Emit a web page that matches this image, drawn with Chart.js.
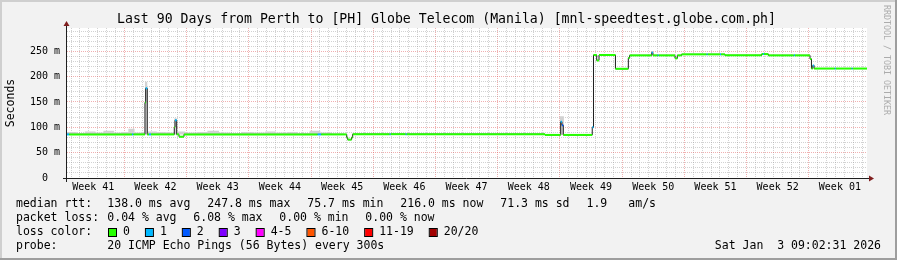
<!DOCTYPE html>
<html>
<head>
<meta charset="utf-8">
<script src="https://cdn.jsdelivr.net/npm/chart.js@4.4.1/dist/chart.umd.min.js"></script>
<style>
  html, body { margin: 0; padding: 0; background: #f2f2f2; }
  canvas { display: block; }
</style>
</head>
<body>
<canvas id="smokeChart" width="897" height="260"></canvas>
<script>
const titleText = 'Last 90 Days from Perth to [PH] Globe Telecom (Manila) [mnl-speedtest.globe.com.ph]';
const weekLabels = ['Week 41', 'Week 42', 'Week 43', 'Week 44', 'Week 45', 'Week 46', 'Week 47',
  'Week 48', 'Week 49', 'Week 50', 'Week 51', 'Week 52', 'Week 01'];
const yTickValues = [0, 50, 100, 150, 200, 250];
const yTickLabels = ['0  ', '50 m', '100 m', '150 m', '200 m', '250 m'];

// median rtt (ms), step values starting at each day offset
const days = [
  0, 0.25, 7.31, 7.48, 8.77, 8.85, 9.03, 9.22, 9.45,
  12.07, 12.15, 12.34, 12.6, 13.16,
  28.2, 28.6, 31.47, 31.58, 32.02, 32.14,
  36.3, 36.42, 38.1, 38.22, 53.77,
  55.54, 55.68, 55.83, 59.09, 59.23, 59.59, 59.85,
  61.7, 63.15, 63.3, 65.78, 65.92, 66.45, 66.57,
  68.4, 68.66, 69.15, 71.96, 72.08, 73.46, 73.58, 74.02,
  78.15, 78.3, 78.42, 78.9, 81.77, 81.89, 83.59, 83.75, 83.9, 84.05,
  86.38, 86.5, 88.27, 88.39
];
const median = [
  86, 86, 86, 86, 149, 177, 86, 86, 86,
  100, 114, 86, 81.5, 86,
  86, 86, 80, 75.7, 80, 86.5,
  86.5, 86.5, 86.5, 86.5, 85,
  111, 104, 85, 100, 242.7, 232, 242.7,
  215.5, 237, 242, 247.8, 242, 242, 242,
  236, 242, 244, 244, 244, 244, 244, 242,
  244.5, 244.5, 244.5, 242, 242, 242, 235, 216, 222, 216,
  216, 216, 216, 216
];
// lost pings (of 20) for each step
const loss = [
  1, 0, 1, 0, 0, 1, 0, 1, 0,
  0, 1, 0, 0, 0,
  1, 0, 0, 0, 0, 0,
  1, 0, 1, 0, 0,
  1, 2, 0, 1, 0, 0, 0,
  0, 0, 0, 1, 0, 1, 0,
  0, 0, 0, 1, 0, 1, 0, 0,
  0, 1, 0, 0, 1, 0, 0, 0, 1, 0,
  1, 0, 1, 0
];

// smoke (spread of the pings)
const smokeDays = [0, 1.1, 2.0, 3.2, 4.1, 5.3, 6.2, 6.9, 7.6, 8.77, 9.03, 10.1, 11.2, 12.07, 12.34,
  13.3, 14.6, 15.8, 17.1, 18.4, 19.6, 20.9, 22.3, 23.5, 24.8, 26.0, 27.3, 28.5, 29.8, 31.2, 55.45, 55.9];
const smokeLo = [86, 86, 86, 86, 86, 86, 86, 86, 86, 86, 86, 86, 86, 86, 86,
  86, 86, 86, 86, 86, 86, 86, 86, 86, 86, 86, 86, 86, 86, 86, 85, 85];
const smokeHi = [91, 89, 92, 90, 93, 90, 91, 97, 90, 190, 92, 91, 90, 118, 92,
  90, 91, 93, 90, 89, 91, 90, 92, 90, 91, 89, 93, 90, 88, 86, 122, 85];

const lossLabels = ['0', '1', '2', '3', '4-5', '6-10', '11-19', '20/20'];
const lossColors = ['#26ff00', '#00b8ff', '#0059ff', '#7e00ff', '#ff00ff', '#ff5500', '#ff0000', '#a10000'];
const rttStats = ['138.0 ms avg', '247.8 ms max', '75.7 ms min', '216.0 ms now', '71.3 ms sd', '1.9', 'am/s'];
const lossStats = ['0.04 % avg', '6.08 % max', '0.00 % min', '0.00 % now'];
const probeText = '20 ICMP Echo Pings (56 Bytes) every 300s';
const stampText = 'Sat Jan  3 09:02:31 2026';

const totalDays = 90;
const weekStart = 6.45; // first monday line
const mono = '"DejaVu Sans Mono"';
const gridGrey = 'rgba(143,143,143,0.4)';
const gridRed = 'rgba(222,79,79,0.45)';

function lossColor(n) {
  if (n <= 3) return lossColors[n];
  if (n <= 5) return lossColors[4];
  if (n <= 10) return lossColors[5];
  if (n <= 19) return lossColors[6];
  return lossColors[7];
}

function isWeekLine(v) {
  const r = ((v - weekStart) % 7 + 7) % 7;
  return r < 0.01 || r > 6.99;
}

const medianSteps = days.map((d, i) => ({x: d, y: median[i]}));
medianSteps.push({x: totalDays, y: median[median.length - 1]});

const medianBars = [];
days.forEach((d, i) => {
  const end = i + 1 < days.length ? days[i + 1] : totalDays;
  medianBars.push({x: d, y: median[i]}, {x: end, y: median[i]}, {x: end, y: null});
});

function smokeLine(vals) {
  const pts = smokeDays.map((d, i) => ({x: d, y: vals[i]}));
  pts.push({x: totalDays, y: vals[vals.length - 1]});
  return pts;
}

const dayLines = [];
for (let d = weekStart % 1; d < totalDays; d++) dayLines.push(d);
const weekLabelDays = weekLabels.map((w, i) => weekStart - 3.5 + 7 * i);
const yGridValues = [];
for (let v = 0; v < 296; v += 10) yGridValues.push(v);

const rrdFrame = {
  id: 'rrdFrame',
  beforeDraw(chart) {
    const {ctx, width, height, chartArea: a} = chart;
    ctx.save();
    ctx.fillStyle = '#f2f2f2';
    ctx.fillRect(0, 0, width, height);
    ctx.fillStyle = '#cfcfcf';
    ctx.fillRect(0, 0, width, 2);
    ctx.fillRect(0, 0, 2, height);
    ctx.fillStyle = '#9e9e9e';
    ctx.fillRect(0, height - 2, width, 2);
    ctx.fillRect(width - 2, 0, 2, height);
    ctx.fillStyle = '#ffffff';
    ctx.fillRect(a.left, a.top, a.right - a.left, a.bottom - a.top);
    ctx.restore();
  },
  afterDatasetsDraw(chart) {
    const {ctx, chartArea: a} = chart;
    const ax = a.left - 0.5;
    const ay = a.bottom + 0.5;
    ctx.save();
    ctx.strokeStyle = '#1f1f1f';
    ctx.lineWidth = 1;
    ctx.beginPath();
    ctx.moveTo(a.left - 4, ay);
    ctx.lineTo(a.right + 3, ay);
    ctx.moveTo(ax, a.bottom + 4);
    ctx.lineTo(ax, a.top - 2);
    ctx.stroke();
    ctx.fillStyle = '#801f1f';
    ctx.beginPath();
    ctx.moveTo(a.right + 2, ay - 3);
    ctx.lineTo(a.right + 2, ay + 3);
    ctx.lineTo(a.right + 7, ay);
    ctx.closePath();
    ctx.fill();
    ctx.beginPath();
    ctx.moveTo(ax - 3, a.top - 2);
    ctx.lineTo(ax + 3, a.top - 2);
    ctx.lineTo(ax, a.top - 7);
    ctx.closePath();
    ctx.fill();
    ctx.restore();
  },
  afterDraw(chart) {
    const ctx = chart.ctx;
    const rows = [204.5, 218.5, 232.5, 246.5];
    ctx.save();
    ctx.fillStyle = '#000';
    ctx.font = '11.5px ' + mono;
    ctx.textBaseline = 'middle';
    ctx.textAlign = 'left';

    ctx.fillText('median rtt:', 16, rows[0]);
    const rttX = [107.3, 207.3, 307.3, 400.3, 500.3, 586.5, 628.3];
    rttStats.forEach((t, i) => ctx.fillText(t, rttX[i], rows[0]));

    ctx.fillText('packet loss:', 16, rows[1]);
    const lossX = [107.3, 193.3, 279.3, 365.3];
    lossStats.forEach((t, i) => ctx.fillText(t, lossX[i], rows[1]));

    ctx.fillText('loss color:', 16, rows[2]);
    let x = 108;
    lossLabels.forEach((t, i) => {
      ctx.fillStyle = lossColors[i];
      ctx.fillRect(x + 1, 229, 7, 7);
      ctx.strokeStyle = '#000';
      ctx.lineWidth = 1;
      ctx.strokeRect(x + 0.5, 228.5, 8, 8);
      ctx.fillStyle = '#000';
      ctx.fillText(t, x + 15, rows[2]);
      x += 15 + ctx.measureText(t).width + 15;
    });

    ctx.fillText('probe:', 16, rows[3]);
    ctx.fillText(probeText, 107.3, rows[3]);
    ctx.textAlign = 'right';
    ctx.fillText(stampText, 881, rows[3]);

    // watermark
    ctx.translate(886.5, 60);
    ctx.rotate(Math.PI / 2);
    ctx.font = '8.3px ' + mono;
    ctx.textAlign = 'center';
    ctx.fillStyle = '#acacac';
    ctx.fillText('RRDTOOL / TOBI OETIKER', 0, 0);
    ctx.restore();
  }
};

Chart.defaults.font.family = mono;
Chart.defaults.color = '#000';

new Chart(document.getElementById('smokeChart'), {
  type: 'line',
  data: {
    datasets: [{
      label: 'smoke lo',
      data: smokeLine(smokeLo),
      stepped: 'before',
      borderColor: 'transparent',
      borderWidth: 0,
      pointRadius: 0,
      fill: false,
      order: 3
    }, {
      label: 'smoke hi',
      data: smokeLine(smokeHi),
      stepped: 'before',
      borderColor: 'transparent',
      borderWidth: 0,
      pointRadius: 0,
      backgroundColor: '#d2d2d2',
      fill: '-1',
      order: 3
    }, {
      label: 'median',
      data: medianSteps,
      stepped: 'before',
      borderColor: '#1e1e1e',
      borderWidth: 1,
      pointRadius: 0,
      fill: false,
      order: 2
    }, {
      label: 'loss',
      data: medianBars,
      borderColor: lossColors[0],
      borderWidth: 2,
      borderCapStyle: 'butt',
      pointRadius: 0,
      spanGaps: false,
      fill: false,
      segment: {
        borderColor: c => lossColor(loss[Math.floor(c.p0DataIndex / 3)])
      },
      order: 1
    }]
  },
  options: {
    responsive: false,
    animation: false,
    devicePixelRatio: 1,
    layout: { padding: { left: 0, right: 4, top: 0, bottom: 0 } },
    plugins: {
      legend: { display: false },
      tooltip: { enabled: false },
      title: {
        display: true,
        text: titleText,
        color: '#000',
        font: { family: mono, size: 13.2, weight: 'normal' },
        padding: { top: 12, bottom: 0.16 }
      }
    },
    scales: {
      x: {
        type: 'linear',
        position: 'bottom',
        min: 0,
        max: totalDays,
        afterBuildTicks: s => { s.ticks = weekLabelDays.map(v => ({value: v})); },
        ticks: {
          callback: (v, i) => weekLabels[i],
          autoSkip: false,
          maxRotation: 0,
          minRotation: 0,
          padding: 3,
          font: { family: mono, size: 10 },
          color: '#000'
        },
        grid: { display: false, drawTicks: false },
        border: { display: false },
        afterFit: s => { s.height = 82; }
      },
      xgrid: {
        type: 'linear',
        position: 'bottom',
        min: 0,
        max: totalDays,
        afterBuildTicks: s => { s.ticks = dayLines.map(v => ({value: v})); },
        ticks: { display: false },
        grid: {
          drawTicks: false,
          lineWidth: 1,
          color: c => (c.tick && isWeekLine(c.tick.value)) ? gridRed : gridGrey
        },
        border: { display: false, dash: [1, 1] },
        afterFit: s => { s.height = 0; }
      },
      y: {
        type: 'linear',
        position: 'left',
        min: 0,
        max: 296,
        afterBuildTicks: s => { s.ticks = yGridValues.map(v => ({value: v})); },
        ticks: {
          callback: v => {
            const k = yTickValues.indexOf(v);
            return k >= 0 ? yTickLabels[k] : '';
          },
          autoSkip: false,
          padding: 7,
          font: { family: mono, size: 10 },
          color: '#000'
        },
        grid: {
          drawTicks: false,
          lineWidth: 1,
          color: c => (c.tick && c.tick.value % 50 === 0) ? gridRed : gridGrey
        },
        border: { display: false, dash: [1, 1] },
        title: {
          display: true,
          text: 'Seconds',
          color: '#000',
          font: { family: mono, size: 11.5 },
          padding: { top: 4, bottom: 0 }
        },
        afterFit: s => { s.width = 67; }
      },
      y2: {
        type: 'linear',
        position: 'right',
        min: 0,
        max: 296,
        ticks: { display: false },
        grid: { display: false },
        border: { display: false },
        afterFit: s => { s.width = 26; }
      }
    }
  },
  plugins: [rrdFrame]
});
</script>
</body>
</html>
